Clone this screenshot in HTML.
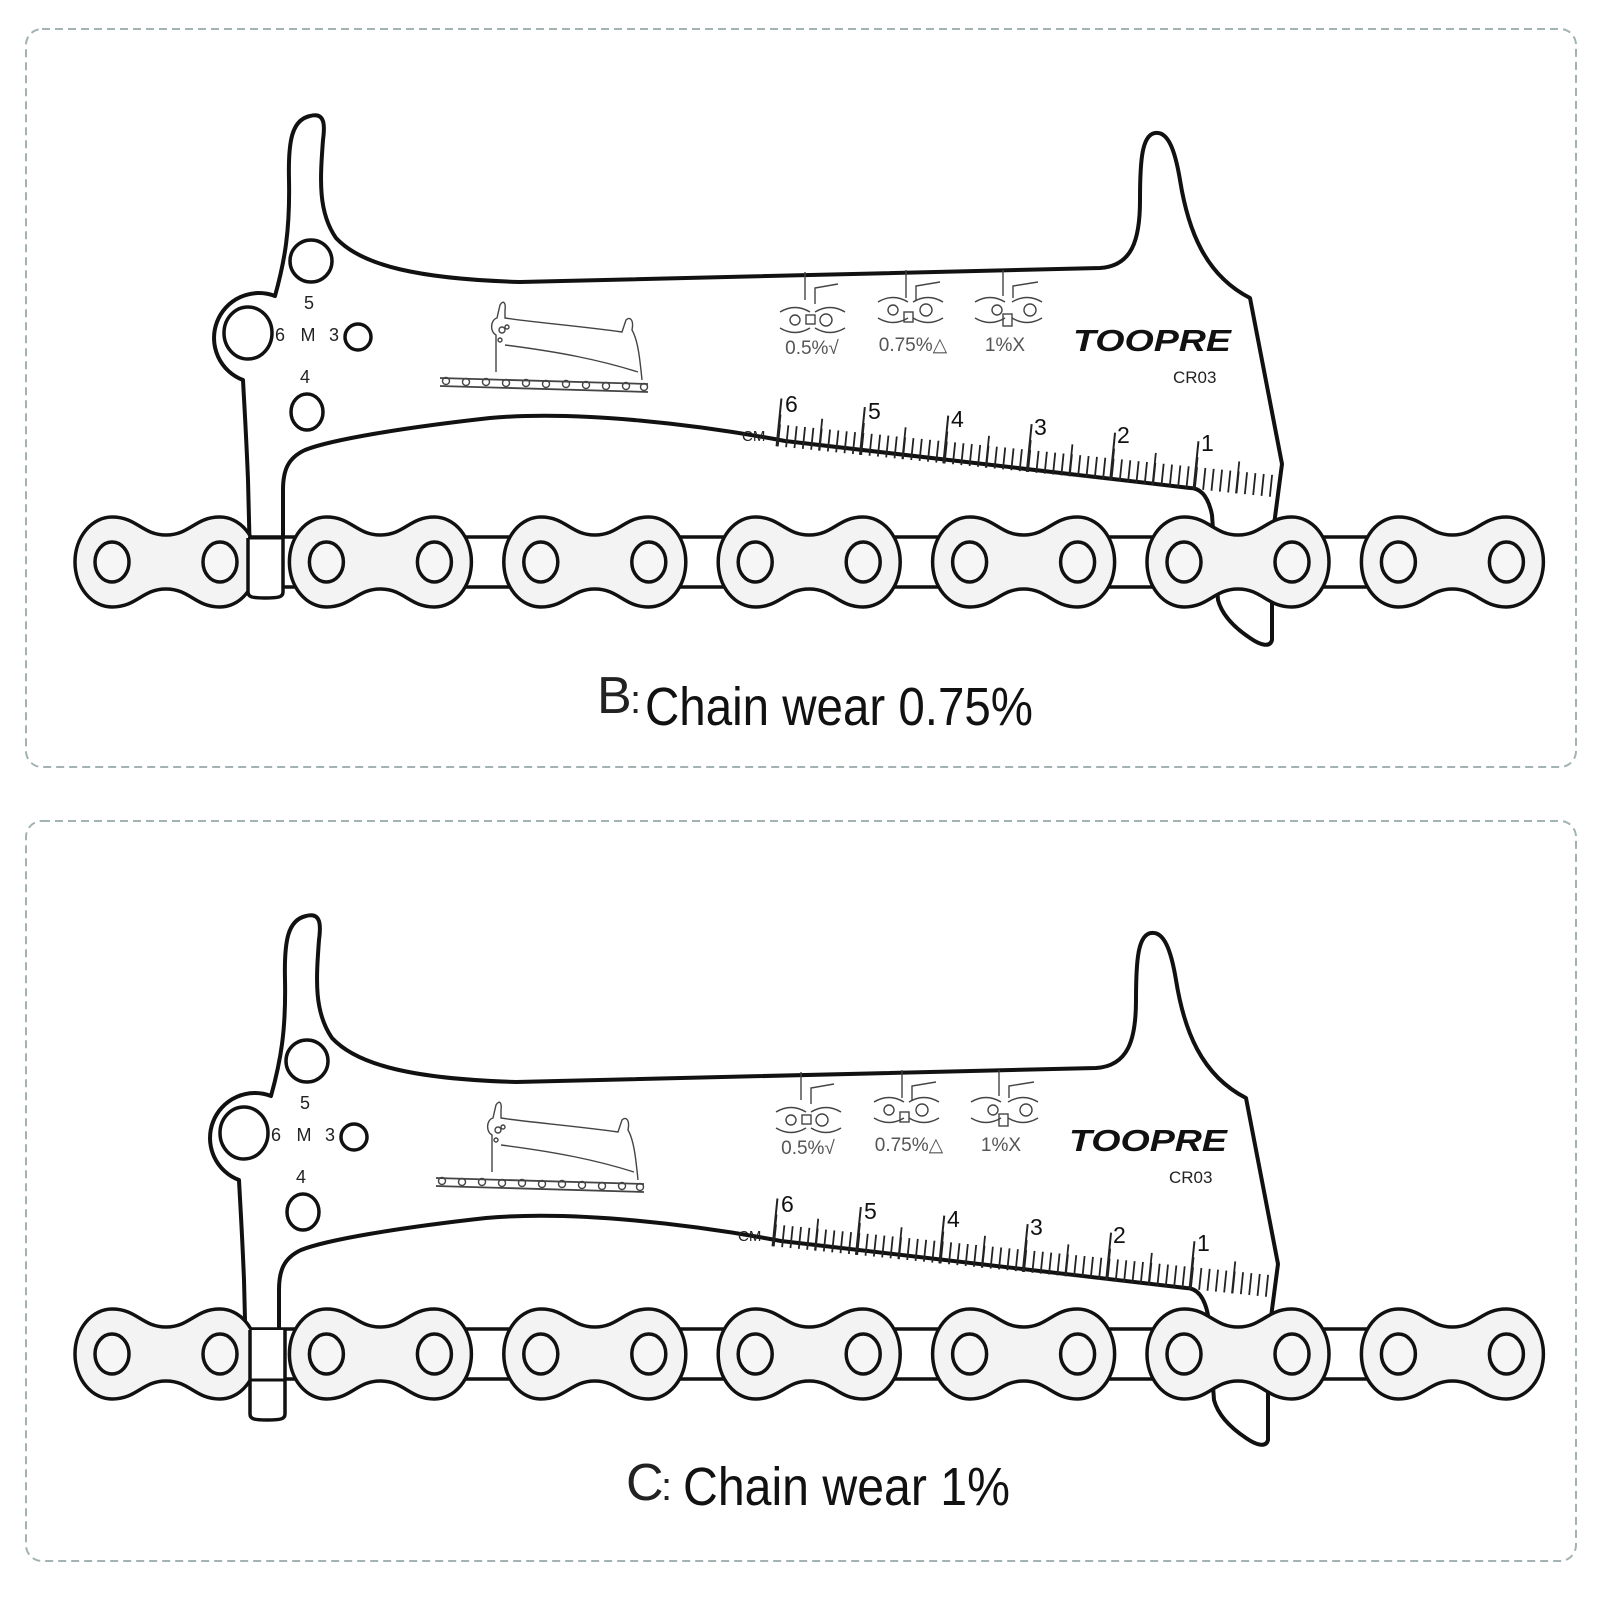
<!DOCTYPE html>
<html><head><meta charset="utf-8"><style>html,body{margin:0;padding:0;background:#fff}svg{display:block}</style></head>
<body>
<svg width="1600" height="1600" viewBox="0 0 1600 1600" xmlns="http://www.w3.org/2000/svg" font-family="Liberation Sans, sans-serif">
<defs>
<g id="tool">
  <path d="M250,560 L248,480 C246,430 244,400 243,380 A44 44 0 1 1 275,296 C285,260 290,230 289,180 C288,140 292,120 310,116 C325,112 325,125 323,140 C320,180 318,212 336,238 C362,266 420,279 520,282 L1100,268 C1132,266 1140,240 1140,200 C1140,160 1142,135 1155,133 C1168,131 1175,150 1180,180 C1188,230 1205,275 1250,298 L1282,464 L1272,540 L1272,640 C1270,648 1260,645 1250,638 C1235,628 1222,615 1218,600 L1212,515 C1208,495 1200,488 1190,488 L785,441 C700,425 580,410 490,418 C400,428 330,440 305,450 C288,458 283,470 283,490 L283,560 Z" fill="#fff" stroke="#111" stroke-width="4" stroke-linejoin="round"/>
  <g fill="none" stroke="#111" stroke-width="3.5">
    <ellipse cx="248" cy="333" rx="24" ry="26"/>
    <circle cx="311" cy="261" r="21"/>
    <circle cx="358" cy="337" r="13"/>
    <ellipse cx="307" cy="412" rx="16" ry="18"/>
  </g>
  <g stroke="#222" fill="none">
    <line x1="778" y1="435.3" x2="1278" y2="486.5" stroke-width="22" stroke-dasharray="1.8 6.584"/>
    <line x1="778" y1="430.3" x2="1278" y2="481.5" stroke-width="32" stroke-dasharray="1.8 40.12"/>
    <line x1="778" y1="422.3" x2="1278" y2="473.5" stroke-width="48" stroke-dasharray="2 81.84"/>
  </g>
  <g fill="none" stroke="#444" stroke-width="1.4">
    <path d="M496,372 L496,335 C490,332 490,320 497,318 L500,305 C503,300 506,302 505,310 L505,318 C530,322 580,326 622,332 L626,320 C630,316 634,320 632,330 C638,340 640,360 642,380 M505,345 C560,352 600,360 638,372"/>
    <circle cx="502" cy="330" r="3"/><circle cx="500" cy="340" r="2"/><circle cx="507" cy="327" r="2"/>
    <path d="M440,378 L648,384 M440,386 L648,392" stroke-width="1.8"/>
    <circle cx="446" cy="381" r="3.5"/><circle cx="466" cy="382" r="3.5"/><circle cx="486" cy="382" r="3.5"/><circle cx="506" cy="383" r="3.5"/><circle cx="526" cy="383" r="3.5"/><circle cx="546" cy="384" r="3.5"/><circle cx="566" cy="384" r="3.5"/><circle cx="586" cy="385" r="3.5"/><circle cx="606" cy="386" r="3.5"/><circle cx="626" cy="386" r="3.5"/><circle cx="644" cy="387" r="3.5"/>
  </g>
  <g fill="none" stroke="#444" stroke-width="1.4">
    <path d="M805,272 L805,300 M815,304 L815,288 L838,284 M780,312 C790,306 800,306 810,312 M780,328 C790,334 800,334 810,328 M815,312 C825,306 835,306 845,312 M815,328 C825,334 835,334 845,328"/>
    <circle cx="795" cy="320" r="5"/><circle cx="826" cy="320" r="6"/><rect x="806" y="315" width="9" height="9"/>
    <path d="M906,270 L906,298 M916,300 L916,286 L940,282 M878,302 C888,296 898,296 908,302 M878,318 C888,324 898,324 908,318 M913,302 C923,296 933,296 943,302 M913,318 C923,324 933,324 943,318"/>
    <circle cx="893" cy="310" r="5"/><circle cx="926" cy="310" r="6"/><rect x="904" y="312" width="9" height="10"/>
    <path d="M1003,270 L1003,296 M1013,298 L1013,286 L1038,282 M975,302 C985,296 995,296 1005,302 M975,318 C985,324 995,324 1005,318 M1012,302 C1022,296 1032,296 1042,302 M1012,318 C1022,324 1032,324 1042,318"/>
    <circle cx="997" cy="310" r="5"/><circle cx="1030" cy="310" r="6"/><rect x="1003" y="314" width="9" height="12"/>
  </g>
</g>
<g id="plate">
  <path d="M0,-45 C25,-45 30,-27 54,-27 C78,-27 83,-45 108,-45 A37 45 0 0 1 108,45 C83,45 78,27 54,27 C30,27 25,45 0,45 A37 45 0 0 1 0,-45 Z" fill="#f3f3f3" stroke="#111" stroke-width="3.5"/>
  <ellipse cx="0" cy="0" rx="17" ry="20" fill="#f6f6f6" stroke="#111" stroke-width="3.5"/>
  <ellipse cx="108" cy="0" rx="17" ry="20" fill="#f6f6f6" stroke="#111" stroke-width="3.5"/>
</g>
<g id="chain">
  <g fill="#fff" stroke="#111" stroke-width="3.5">
    <rect x="215" y="-25" width="110" height="50"/>
    <rect x="429" y="-25" width="110" height="50"/>
    <rect x="644" y="-25" width="110" height="50"/>
    <rect x="858" y="-25" width="110" height="50"/>
    <rect x="1073" y="-25" width="110" height="50"/>
    <rect x="1287" y="-25" width="110" height="50"/>
  </g>
  <use href="#plate" x="112" y="0"/>
  <use href="#plate" x="326.4" y="0"/>
  <use href="#plate" x="540.8" y="0"/>
  <use href="#plate" x="755.2" y="0"/>
  <use href="#plate" x="969.6" y="0"/>
  <use href="#plate" x="1184" y="0"/>
  <use href="#plate" x="1398.4" y="0"/>
</g>
</defs>

<rect x="26" y="29" width="1550" height="738" rx="16" fill="none" stroke="#a3b3b3" stroke-width="2" stroke-dasharray="8 5"/>
<rect x="26" y="821" width="1550" height="740" rx="16" fill="none" stroke="#a3b3b3" stroke-width="2" stroke-dasharray="8 5"/>

<use href="#tool"/>
<g font-size="18" fill="#222" text-anchor="middle">
  <text x="309" y="309">5</text><text x="280" y="341">6</text><text x="308" y="341">M</text><text x="334" y="341">3</text><text x="305" y="383">4</text>
</g>
<g font-size="19" fill="#555" text-anchor="middle">
  <text x="812" y="354">0.5%√</text><text x="913" y="351">0.75%△</text><text x="1005" y="351">1%X</text>
</g>
<text x="1073" y="351" font-size="31" font-weight="bold" font-style="italic" fill="#111" textLength="158" lengthAdjust="spacingAndGlyphs">TOOPRE</text>
<text x="1173" y="383" font-size="17" fill="#222">CR03</text>
<text x="742" y="441" font-size="15" fill="#222">CM</text>
<g font-size="23" fill="#111">
  <text x="785" y="412">6</text><text x="868" y="419">5</text><text x="951" y="427">4</text><text x="1034" y="435">3</text><text x="1117" y="443">2</text><text x="1201" y="451">1</text>
</g>
<use href="#chain" y="562"/>
<path d="M248,538 L248,592 C248,597 252,598 265,598 C279,598 283,597 283,592 L283,538" fill="#fff" stroke="#111" stroke-width="3.5"/>
<line x1="248" y1="538" x2="283" y2="538" stroke="#111" stroke-width="3"/>
<text x="597" y="713" font-size="52" fill="#222">B</text><text x="630" y="713" font-size="40" fill="#222">:</text>
<text x="645" y="725" font-size="54" fill="#111" textLength="388" lengthAdjust="spacingAndGlyphs">Chain wear 0.75%</text>

<g transform="translate(-4,800)">
<use href="#tool"/>
<g font-size="18" fill="#222" text-anchor="middle">
  <text x="309" y="309">5</text><text x="280" y="341">6</text><text x="308" y="341">M</text><text x="334" y="341">3</text><text x="305" y="383">4</text>
</g>
<g font-size="19" fill="#555" text-anchor="middle">
  <text x="812" y="354">0.5%√</text><text x="913" y="351">0.75%△</text><text x="1005" y="351">1%X</text>
</g>
<text x="1073" y="351" font-size="31" font-weight="bold" font-style="italic" fill="#111" textLength="158" lengthAdjust="spacingAndGlyphs">TOOPRE</text>
<text x="1173" y="383" font-size="17" fill="#222">CR03</text>
<text x="742" y="441" font-size="15" fill="#222">CM</text>
<g font-size="23" fill="#111">
  <text x="785" y="412">6</text><text x="868" y="419">5</text><text x="951" y="427">4</text><text x="1034" y="435">3</text><text x="1117" y="443">2</text><text x="1201" y="451">1</text>
</g>
</g>
<use href="#chain" y="1354"/>
<path d="M250,1330 L250,1414 C250,1419 254,1420 267,1420 C281,1420 285,1419 285,1414 L285,1330" fill="#fff" stroke="#111" stroke-width="3.5"/>
<line x1="250" y1="1380" x2="285" y2="1380" stroke="#111" stroke-width="3"/>
<text x="626" y="1500" font-size="52" fill="#222">C</text><text x="661" y="1500" font-size="40" fill="#222">:</text>
<text x="683" y="1505" font-size="54" fill="#111" textLength="327" lengthAdjust="spacingAndGlyphs">Chain wear 1%</text>
</svg>
</body></html>
